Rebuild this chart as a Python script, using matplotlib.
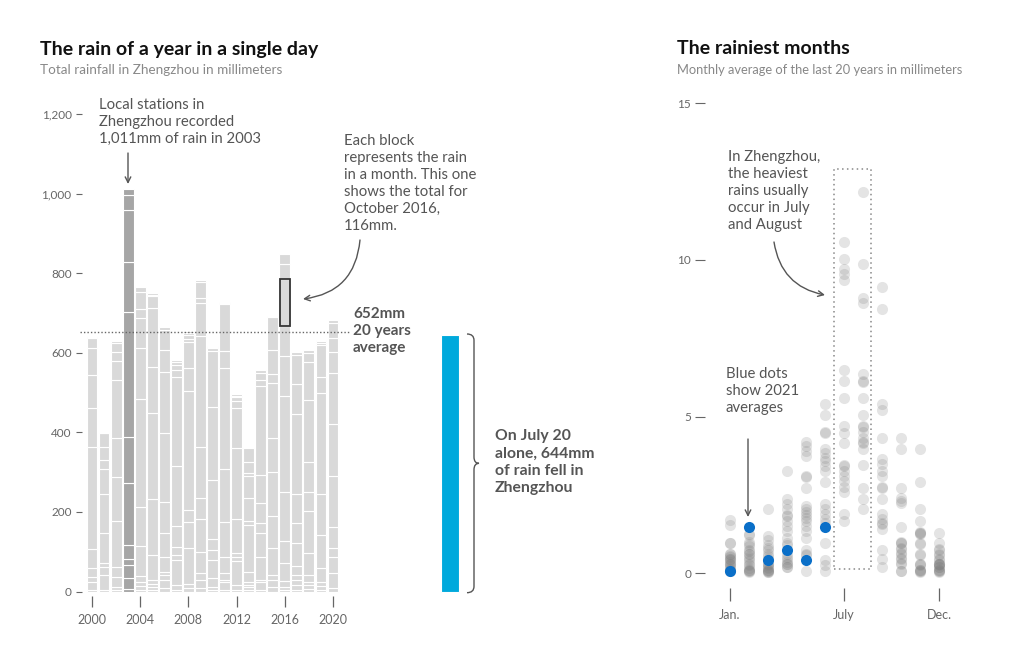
import numpy as np
import matplotlib
matplotlib.use("Agg")
from matplotlib import pyplot as plt
from matplotlib.path import Path
from matplotlib.patches import PathPatch, Rectangle

plt.rcParams['font.family'] = ['Lato', 'DejaVu Sans']

# ---- data: monthly rainfall (mm) per year, Jan..Dec ----
years = list(range(2000, 2021))
monthly_rain = [
    [3, 22, 12, 21, 48, 258, 96, 85, 67, 24, 4, 2],          # 2000
    [3, 38, 20, 10, 75, 98, 64, 22, 34, 35, 0, 0],           # 2001
    [5, 7, 25, 25, 115, 111, 97, 146, 49, 21, 24, 4],        # 2002
    [7, 26, 33, 15, 37, 154, 117, 313, 125, 132, 37, 15],    # 2003
    [5, 10, 10, 13, 76, 99, 271, 127, 77, 22, 43, 11],       # 2004
    [4, 8, 8, 10, 62, 140, 216, 117, 147, 30, 4, 3],         # 2005
    [8, 21, 12, 9, 36, 60, 80, 173, 153, 55, 50, 8],         # 2006
    [5, 11, 63, 13, 20, 53, 150, 225, 16, 13, 7, 5],         # 2007
    [8, 12, 90, 65, 31, 298, 57, 65, 8, 10, 6, 5],           # 2008
    [8, 22, 16, 52, 84, 52, 130, 279, 81, 13, 40, 6],        # 2009
    [4, 8, 21, 46, 25, 27, 149, 184, 141, 6, 3, 3],          # 2010
    [5, 18, 7, 16, 40, 89, 132, 254, 44, 117, 3, 3],         # 2011
    [4, 12, 61, 10, 9, 86, 178, 100, 18, 10, 4, 4],          # 2012
    [5, 7, 4, 9, 25, 117, 10, 59, 54, 7, 29, 34],            # 2013
    [4, 21, 5, 56, 60, 25, 52, 70, 223, 15, 19, 6],          # 2014
    [12, 18, 11, 69, 80, 109, 86, 140, 21, 62, 81, 4],       # 2015
    [4, 8, 15, 44, 56, 124, 240, 101, 76, 116, 38, 26],      # 2016
    [5, 11, 13, 12, 23, 58, 49, 75, 199, 76, 73, 7],         # 2017
    [6, 10, 9, 16, 56, 106, 48, 75, 155, 96, 23, 8],         # 2018
    [5, 9, 11, 33, 84, 102, 254, 40, 81, 6, 4, 3],           # 2019
    [8, 38, 41, 23, 53, 127, 130, 128, 54, 34, 39, 7],       # 2020
]
record_year = 2003
highlight_year, highlight_month = 2016, 10
avg_20y = 652
july20_2021 = 644

# ---- data: monthly average (mm per day), one dot per year 2001-2020 ----
month_pos = list(range(1, 13))
month_ticks = [1, 7, 12]
month_labels = ['Jan.', 'July', 'Dec.']
daily_avg = [
    [1.68, 1.54, 0.95, 0.95, 0.62, 0.6, 0.55, 0.46, 0.44, 0.42, 0.3, 0.28, 0.26, 0.2, 0.12, 0.1, 0.06, 0.06, 0.5, 0.35],
    [1.25, 1.2, 1.0, 0.92, 0.85, 0.75, 0.7, 0.62, 0.6, 0.5, 0.44, 0.38, 0.3, 0.25, 0.15, 0.1, 0.08, 0.06, 0.06, 0.04],
    [2.03, 1.18, 1.04, 0.88, 0.8, 0.72, 0.62, 0.55, 0.45, 0.3, 0.28, 0.2, 0.17, 0.1, 0.06, 0.06, 0.04, 0.1, 0.25, 0.02],
    [3.26, 2.38, 2.21, 2.03, 1.86, 1.82, 1.65, 1.5, 1.34, 1.13, 0.97, 0.9, 0.6, 0.52, 0.44, 0.36, 0.28, 0.2, 0.18, 0.3],
    [4.2, 4.05, 3.89, 3.73, 3.1, 3.06, 2.73, 2.15, 2.05, 1.95, 1.85, 1.75, 1.65, 1.5, 1.34, 1.13, 0.75, 0.62, 0.58, 0.06],
    [5.41, 5.04, 4.52, 4.48, 3.97, 3.84, 3.68, 3.58, 3.42, 3.26, 2.9, 2.19, 2.03, 1.87, 1.71, 0.95, 0.42, 0.24, 0.06, 1.6],
    [10.59, 10.04, 9.7, 9.55, 9.36, 6.5, 6.13, 5.6, 4.69, 4.48, 4.16, 3.46, 3.42, 3.26, 3.1, 2.93, 2.76, 2.6, 1.87, 1.66],
    [12.18, 9.86, 8.8, 8.64, 6.35, 6.15, 6.11, 5.6, 5.04, 4.71, 4.67, 4.5, 4.32, 4.18, 4.14, 3.97, 3.44, 2.73, 2.35, 2.03],
    [9.15, 8.45, 5.41, 5.22, 4.32, 3.63, 3.47, 3.26, 3.1, 2.75, 2.71, 2.35, 1.87, 1.71, 1.55, 1.4, 0.75, 0.44, 0.2, 1.6],
    [4.32, 3.97, 2.73, 2.4, 2.24, 1.47, 0.95, 0.8, 0.78, 0.65, 0.6, 0.48, 0.45, 0.32, 0.3, 0.06, 0.06, 0.95, 1.0, 2.3],
    [3.97, 2.9, 2.03, 1.66, 1.31, 1.29, 1.27, 1.25, 0.95, 0.92, 0.6, 0.58, 0.28, 0.26, 0.08, 0.06, 0.06, 0.04, 0.1, 0.3],
    [1.29, 0.95, 0.78, 0.75, 0.6, 0.58, 0.44, 0.42, 0.3, 0.28, 0.26, 0.2, 0.18, 0.08, 0.06, 0.06, 0.04, 0.1, 0.28, 0.3],
]
avg_2021 = [0.06, 1.47, 0.42, 0.75, 0.42, 1.47]

W, H = 1023, 665
TXT = '#555555'
fig = plt.figure(figsize=(W / 100, H / 100), dpi=100)


def box(l, t, r, b):
    return [l / W, 1 - b / H, (r - l) / W, (b - t) / H]


def fp(x, y):
    return (x, H - y)


# ---------------- left panel ----------------
# 2000 sits at x=92px, 12.05 px per year; 0mm at y=591.5px, 0.398 px per mm
L, R, T, B = 82, 620, 100, 596
ax = fig.add_axes(box(L, T, R, B))
ax.set_xlim(2000 + (L - 92) / 12.05, 2000 + (R - 92) / 12.05)
ax.set_ylim((591.5 - B) / 0.398, (591.5 - T) / 0.398)

rain = np.array(monthly_rain)
colors = ['#a6a6a6' if y == record_year else '#d9d9d9' for y in years]
bottom = np.zeros(len(years))
for m in range(12):
    ax.bar(years, rain[:, m], bottom=bottom, width=0.9, color=colors,
           edgecolor='white', linewidth=0.8)
    bottom += rain[:, m]

hi = years.index(highlight_year)
hb = rain[hi, :highlight_month - 1].sum()
ax.bar(highlight_year, rain[hi, highlight_month - 1], bottom=hb, width=0.82,
       fill=False, edgecolor='#333333', linewidth=1.3, zorder=3)

ax.plot([1999.0, 2021.3], [avg_20y, avg_20y], color='#666666', lw=1,
        ls=(0, (1, 1.5)), clip_on=False)

bx = 2000 + (450 - 92) / 12.05
ax.bar(bx, july20_2021, width=18 / 12.05, color='#00a9dc', edgecolor='white', linewidth=0.8)

# curly brace
x0 = 2000 + (467 - 92) / 12.05
x1 = x0 + 7 / 12.05
x2 = x1 + 5 / 12.05
top, bot = july20_2021 + 3, -3
mid = (top + bot) / 2
r = 16
verts = [(x0, top), (x1, top), (x1, top - r), (x1, mid + r), (x1, mid), (x2, mid),
         (x1, mid), (x1, mid - r), (x1, bot + r), (x1, bot), (x0, bot)]
codes = [Path.MOVETO, Path.CURVE3, Path.CURVE3, Path.LINETO, Path.CURVE3, Path.CURVE3,
         Path.CURVE3, Path.CURVE3, Path.LINETO, Path.CURVE3, Path.CURVE3]
ax.add_patch(PathPatch(Path(verts, codes), fill=False, edgecolor='#555555', lw=1))

for s in ax.spines.values():
    s.set_visible(False)
ax.set_yticks(range(0, 1201, 200))
ax.set_yticklabels([f'{v:,}' for v in range(0, 1201, 200)])
ax.set_xticks(range(2000, 2021, 4))
ax.tick_params(axis='y', length=4.5, width=0.8, color='#666666', pad=3,
               labelsize=8.5, labelcolor='#666666')
ax.tick_params(axis='x', length=8, width=0.9, color='#666666', pad=5,
               labelsize=9, labelcolor='#666666')

# ---------------- right panel ----------------
# Jan at x=730px, 19 px per month; 0 at y=573px, 31.3 px per unit
L2, R2, T2, B2 = 705, 960, 95, 588
ax2 = fig.add_axes(box(L2, T2, R2, B2))
ax2.set_xlim(1 + (L2 - 730) / 19, 1 + (R2 - 730) / 19)
ax2.set_ylim((573 - B2) / 31.3, (573 - T2) / 31.3)

for m, vals in zip(month_pos, daily_avg):
    ax2.scatter([m] * len(vals), vals, s=64, color='#808080', alpha=0.21,
                linewidths=0, zorder=2)
ax2.scatter(month_pos[:len(avg_2021)], avg_2021, s=64, color='#0a6fc8',
            linewidths=0, zorder=3)

ax2.add_patch(Rectangle((6.49, 0.12), 1.92, 12.78, fill=False, edgecolor='#888888',
                        lw=1.1, ls=(0, (1, 2.2)), zorder=1))

for s in ax2.spines.values():
    s.set_visible(False)
ax2.set_yticks([0, 5, 10, 15])
ax2.set_xticks(month_ticks)
ax2.set_xticklabels(month_labels)
ax2.tick_params(axis='y', length=7, width=0.8, color='#666666', pad=3,
                labelsize=8.5, labelcolor='#666666')
ax2.tick_params(axis='x', length=9, width=0.9, color='#666666', pad=6,
                labelsize=9, labelcolor='#666666')

# ---------------- titles ----------------
fig.text(40 / W, 1 - 49 / H, 'The rain of a year in a single day', fontsize=14,
         fontweight='bold', color='#111111', va='center')
fig.text(40 / W, 1 - 70 / H, 'Total rainfall in Zhengzhou in millimeters', fontsize=9.7,
         color='#888888', va='center')
fig.text(677 / W, 1 - 49 / H, 'The rainiest months', fontsize=14,
         fontweight='bold', color='#111111', va='center')
fig.text(677 / W, 1 - 70 / H, 'Monthly average of the last 20 years in millimeters',
         fontsize=9.3, color='#888888', va='center')

# ---------------- annotations ----------------
def note(x, y, s, bold=False, size=10.7):
    fig.text(x / W, 1 - y / H, s, fontsize=size, color=TXT, va='center', ha='left',
             linespacing=1.28, fontweight='bold' if bold else 'normal')


note(99, 122, 'Local stations in\nZhengzhou recorded\n1,011mm of rain in 2003')
note(344, 183.5, 'Each block\nrepresents the rain\nin a month. This one\nshows the total for\nOctober 2016,\n116mm.')
note(353, 331, '652mm\n20 years\naverage', bold=True, size=11)
note(495, 462, 'On July 20\nalone, 644mm\nof rain fell in\nZhengzhou', bold=True, size=11.3)
note(728, 191, 'In Zhengzhou,\nthe heaviest\nrains usually\noccur in July\nand August')
note(726, 391, 'Blue dots\nshow 2021\naverages')

arrow = dict(arrowstyle='->', color='#555555', lw=1, shrinkA=0, shrinkB=0)
fig.add_artist(plt.Annotation('', xy=fp(128, 184), xytext=fp(128, 153),
               xycoords='figure pixels', arrowprops=arrow))
fig.add_artist(plt.Annotation('', xy=fp(303, 299), xytext=fp(360, 240),
               xycoords='figure pixels',
               arrowprops=dict(arrow, connectionstyle='arc3,rad=-0.4')))
fig.add_artist(plt.Annotation('', xy=fp(825, 295), xytext=fp(774, 242),
               xycoords='figure pixels',
               arrowprops=dict(arrow, connectionstyle='arc3,rad=0.35')))
fig.add_artist(plt.Annotation('', xy=fp(748, 517), xytext=fp(748, 439),
               xycoords='figure pixels', arrowprops=arrow))

fig.savefig('out.png', dpi=100)
